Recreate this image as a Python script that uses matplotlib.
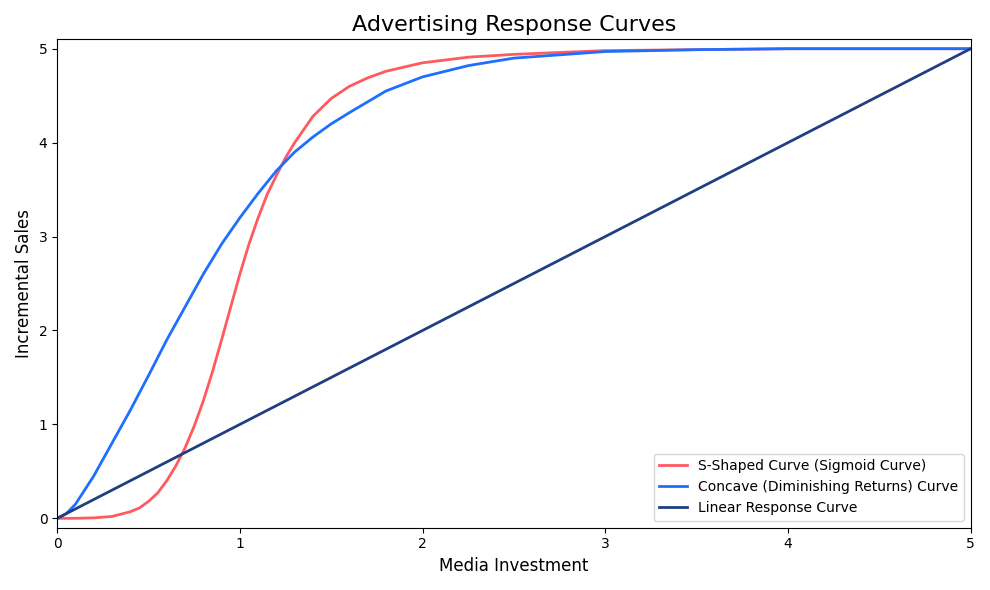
import matplotlib
matplotlib.use("Agg")
import matplotlib.pyplot as plt

s_x = [0, 0.1, 0.2, 0.3, 0.4, 0.45, 0.5, 0.55, 0.6, 0.65, 0.7, 0.75, 0.8, 0.85, 0.9, 0.95, 1.0, 1.05, 1.1, 1.15, 1.2, 1.25, 1.3, 1.4, 1.5, 1.6, 1.7, 1.8, 2.0, 2.25, 2.5, 3.0, 3.5, 4.0, 5.0]
s_y = [0, 0.0, 0.005, 0.02, 0.07, 0.11, 0.18, 0.27, 0.4, 0.56, 0.75, 0.98, 1.25, 1.56, 1.9, 2.25, 2.6, 2.92, 3.2, 3.45, 3.65, 3.84, 4.0, 4.28, 4.47, 4.6, 4.69, 4.76, 4.85, 4.91, 4.94, 4.98, 4.99, 5.0, 5.0]
c_x = [0, 0.05, 0.1, 0.2, 0.3, 0.4, 0.5, 0.6, 0.7, 0.8, 0.9, 1.0, 1.1, 1.2, 1.3, 1.4, 1.5, 1.6, 1.8, 2.0, 2.25, 2.5, 3.0, 3.5, 4.0, 5.0]
c_y = [0, 0.05, 0.15, 0.45, 0.8, 1.15, 1.52, 1.9, 2.25, 2.6, 2.92, 3.2, 3.46, 3.7, 3.9, 4.06, 4.2, 4.32, 4.55, 4.7, 4.82, 4.9, 4.97, 4.99, 5.0, 5.0]
l_x = [0, 5]
l_y = [0, 5]

fig, ax = plt.subplots(figsize=(9.9, 5.9), dpi=100)
ax.plot(s_x, s_y, color="#FF5A5F", lw=2, label="S-Shaped Curve (Sigmoid Curve)")
ax.plot(c_x, c_y, color="#1E6FFF", lw=2, label="Concave (Diminishing Returns) Curve")
ax.plot(l_x, l_y, color="#1F3F80", lw=2, label="Linear Response Curve")
ax.set_xlim(0, 5)
ax.set_ylim(-0.1, 5.1)
ax.set_title("Advertising Response Curves", fontsize=16)
ax.set_xlabel("Media Investment", fontsize=12)
ax.set_ylabel("Incremental Sales", fontsize=12)
ax.legend(loc="lower right")
fig.tight_layout()
fig.savefig("out.png")
